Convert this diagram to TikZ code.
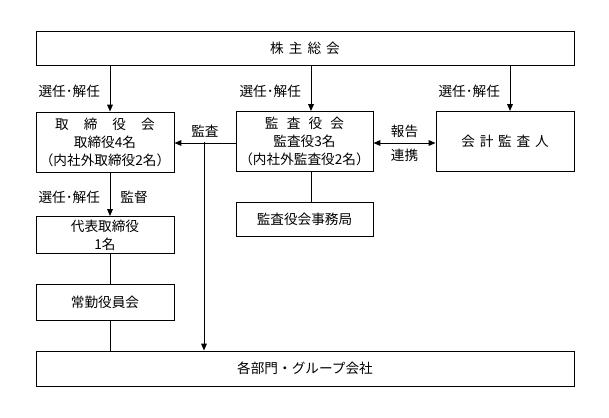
\documentclass[tikz,border=0pt]{standalone}
\usepackage{fontspec}
\setmainfont{Noto Sans CJK JP}
\usepackage{tikz}
\usetikzlibrary{positioning}
\usetikzlibrary{arrows.meta}

\begin{document}
\begin{tikzpicture}[x=0.25mm, y=-0.25mm,
    font=\fontsize{9.7pt}{12.8pt}\selectfont,
    box/.style={draw, line width=0.7pt, inner sep=0pt, align=center},
    lbl/.style={inner sep=0pt},
    arr/.style={line width=0.7pt, -{Triangle[length=1.7mm, width=1.4mm]}},
    arrboth/.style={line width=0.7pt, {Triangle[length=1.7mm, width=1.4mm]}-{Triangle[length=1.7mm, width=1.4mm]}},
    link/.style={line width=0.7pt}]
  \useasboundingbox (0,0) rectangle (609,417);

  % Shareholders
  \node[box, minimum width=134.5mm, minimum height=8.5mm] (top) at (305,48)
    {株\hspace{.37em}主\hspace{.37em}総\hspace{.37em}会};

  % Boards
  \node[box, minimum width=34.5mm, minimum height=15mm] (tori) at (105,142)
    {取\hspace{1.1em}締\hspace{1.1em}役\hspace{1.1em}会\\取締役4名\\（内社外取締役2名）};
  \node[box, minimum width=34.25mm, minimum height=15mm] (kansa) at (304.5,141.5)
    {監\hspace{.6em}査\hspace{.6em}役\hspace{.6em}会\\監査役3名\\（内社外監査役2名）};
  \node[box, minimum width=34.5mm, minimum height=15mm] (kaikei) at (505,141.5)
    {会\hspace{.35em}計\hspace{.35em}監\hspace{.35em}査\hspace{.35em}人};

  % Lower boxes
  \node[box, minimum width=34.25mm, minimum height=8.5mm] (jimu) at (304.5,219) {監査役会事務局};
  \node[box, minimum width=34.5mm, minimum height=9.25mm] (daihyo) at (105,235) {代表取締役\\1名};
  \node[box, minimum width=34.5mm, minimum height=9mm] (jokin) at (105,302) {常勤役員会};
  \node[box, minimum width=134.5mm, minimum height=8.75mm] (bumon) at (305,368.5) {各部門・グループ会社};

  % Appointment arrows
  \foreach \xa/\tgt in {110/tori, 311/kansa, 510/kaikei} {
    \draw[arr] (top.south -| \xa,0) -- node[lbl, pos=.57, left=2.4mm] {選任･解任} (\tgt.north -| \xa,0);
  }
  \draw[arr] (tori.south -| 110,0) -- node[lbl, pos=.57, left=2.4mm] {選任･解任}
    node[lbl, pos=.57, right=2.5mm] {監督} (daihyo.north -| 110,0);

  % Audit
  \draw[arr] (kansa.west |- 0,143) -- node[lbl, above=1.2mm] {監査} (tori.east |- 0,143);
  \draw[arr] (kansa.west -| 204,0) -- (bumon.north -| 204,0);
  \draw[arrboth] (kansa.east |- 0,143) -- node[lbl, above=1.3mm] {報告}
    node[lbl, below=1.3mm] {連携} (kaikei.west |- 0,143);

  % Plain links
  \draw[link] (kansa.south -| 311,0) -- (jimu.north -| 311,0);
  \draw[link] (daihyo.south -| 110,0) -- (jokin.north -| 110,0);
  \draw[link] (jokin.south -| 110,0) -- (bumon.north -| 110,0);
\end{tikzpicture}
\end{document}
